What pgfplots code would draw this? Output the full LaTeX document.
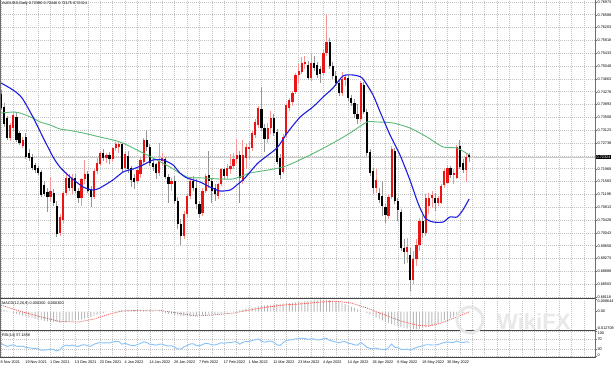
\documentclass[border=0pt]{standalone}
\usepackage{fontspec}
\setmainfont{Liberation Sans}
\usepackage{pgfplots}
\usepackage{pgfplotstable}
\pgfplotsset{compat=1.18}

\definecolor{bullc}{RGB}{235,20,20}
\definecolor{bullw}{RGB}{245,150,150}
\definecolor{bearc}{RGB}{0,0,0}
\definecolor{bearw}{RGB}{150,150,150}
\definecolor{maBlue}{RGB}{30,30,225}
\definecolor{maGreen}{RGB}{90,185,120}
\definecolor{gridc}{RGB}{195,195,195}
\definecolor{framec}{RGB}{110,110,110}
\definecolor{sepc}{RGB}{70,70,70}
\definecolor{rsic}{RGB}{135,195,250}
\definecolor{sigc}{RGB}{240,90,90}
\definecolor{histc}{RGB}{185,185,185}
\definecolor{bidc}{RGB}{200,200,200}

\newcommand{\tf}{\fontsize{3.8}{4.2}\selectfont}

% bearish candles: index, open, high, low, close
\pgfplotstableread{
i O H L C
0 0.7420 0.7433 0.7372 0.7380
1 0.7382 0.7394 0.7322 0.7330
2 0.7349 0.7355 0.7283 0.7290
5 0.7352 0.7367 0.7277 0.7283
6 0.7304 0.7310 0.7268 0.7274
8 0.7292 0.7304 0.7226 0.7232
9 0.7244 0.7255 0.7220 0.7229
10 0.7232 0.7240 0.7193 0.7199
11 0.7208 0.7214 0.7184 0.7193
12 0.7199 0.7205 0.7178 0.7184
13 0.7187 0.7193 0.7112 0.7118
14 0.7148 0.7160 0.7115 0.7121
15 0.7127 0.7139 0.7067 0.7112
17 0.7125 0.7135 0.7085 0.7094
18 0.7085 0.7100 0.6993 0.7000
22 0.7170 0.7180 0.7130 0.7140
24 0.7168 0.7180 0.7125 0.7130
25 0.7130 0.7140 0.7093 0.7110
28 0.7180 0.7190 0.7125 0.7130
29 0.7135 0.7145 0.7083 0.7112
33 0.7245 0.7255 0.7220 0.7228
35 0.7238 0.7248 0.7210 0.7225
39 0.7270 0.7275 0.7188 0.7195
41 0.7235 0.7250 0.7185 0.7195
42 0.7198 0.7205 0.7142 0.7163
43 0.7170 0.7180 0.7135 0.7158
47 0.7283 0.7314 0.7250 0.7262
48 0.7262 0.7270 0.7205 0.7215
49 0.7215 0.7230 0.7190 0.7203
50 0.7210 0.7215 0.7165 0.7183
53 0.7225 0.7232 0.7165 0.7172
54 0.7172 0.7180 0.7093 0.7150
56 0.7160 0.7175 0.7090 0.7100
57 0.7100 0.7112 0.7015 0.7030
58 0.7030 0.7045 0.6967 0.6995
62 0.7160 0.7175 0.7130 0.7140
63 0.7140 0.7165 0.7075 0.7090
64 0.7090 0.7100 0.7050 0.7060
67 0.7178 0.7250 0.7140 0.7160
68 0.7160 0.7170 0.7094 0.7130
69 0.7140 0.7150 0.7100 0.7120
72 0.7195 0.7200 0.7165 0.7175
77 0.7238 0.7250 0.7094 0.7170
84 0.7375 0.7442 0.7310 0.7320
85 0.7320 0.7330 0.7248 0.7285
88 0.7350 0.7360 0.7295 0.7305
89 0.7307 0.7315 0.7210 0.7217
90 0.7229 0.7240 0.7165 0.7178
99 0.7508 0.7520 0.7462 0.7469
101 0.7515 0.7535 0.7490 0.7500
102 0.7508 0.7518 0.7470 0.7478
103 0.7495 0.7505 0.7455 0.7482
106 0.7577 0.7590 0.7495 0.7505
107 0.7505 0.7518 0.7465 0.7475
108 0.7475 0.7490 0.7445 0.7455
109 0.7455 0.7462 0.7415 0.7425
112 0.7470 0.7478 0.7400 0.7410
113 0.7410 0.7418 0.7385 0.7395
114 0.7395 0.7405 0.7350 0.7360
115 0.7362 0.7390 0.7330 0.7345
117 0.7448 0.7458 0.7360 0.7368
118 0.7368 0.7375 0.7235 0.7245
119 0.7247 0.7255 0.7175 0.7184
120 0.7190 0.7200 0.7120 0.7140
122 0.7124 0.7140 0.7095 0.7103
123 0.7115 0.7160 0.7055 0.7085
124 0.7082 0.7090 0.7034 0.7058
127 0.7250 0.7258 0.7090 0.7100
128 0.7100 0.7110 0.7040 0.7073
129 0.7067 0.7075 0.6950 0.6960
130 0.6960 0.6985 0.6910 0.6948
132 0.6938 0.6960 0.6829 0.6862
136 0.7040 0.7055 0.6990 0.7005
140 0.7108 0.7125 0.7070 0.7095
145 0.7199 0.7205 0.7170 0.7178
148 0.7265 0.7283 0.7195 0.7203
149 0.7214 0.7225 0.7185 0.7193
151 0.7238 0.7245 0.7218 0.7232
}\bear

% bullish candles
\pgfplotstableread{
i O H L C
3 0.7290 0.7335 0.7280 0.7328
4 0.7318 0.7368 0.7310 0.7358
7 0.7265 0.7292 0.7259 0.7283
16 0.7112 0.7172 0.7100 0.7130
19 0.7004 0.7060 0.6995 0.7052
20 0.7043 0.7130 0.7035 0.7124
21 0.7124 0.7187 0.7115 0.7170
23 0.7140 0.7180 0.7120 0.7168
26 0.7110 0.7170 0.7085 0.7165
27 0.7165 0.7222 0.7150 0.7180
30 0.7112 0.7195 0.7105 0.7190
31 0.7190 0.7230 0.7180 0.7215
32 0.7212 0.7250 0.7205 0.7245
34 0.7228 0.7245 0.7215 0.7238
36 0.7225 0.7262 0.7218 0.7258
37 0.7258 0.7278 0.7250 0.7270
38 0.7262 0.7277 0.7245 0.7272
40 0.7200 0.7247 0.7195 0.7240
44 0.7160 0.7198 0.7150 0.7193
45 0.7180 0.7228 0.7170 0.7223
46 0.7217 0.7290 0.7210 0.7283
51 0.7185 0.7274 0.7175 0.7220
52 0.7220 0.7245 0.7205 0.7230
55 0.7150 0.7170 0.7130 0.7160
59 0.6995 0.7070 0.6985 0.7062
60 0.7062 0.7120 0.7050 0.7115
61 0.7115 0.7170 0.7105 0.7160
65 0.7065 0.7140 0.7055 0.7130
66 0.7130 0.7180 0.7125 0.7175
70 0.7115 0.7155 0.7105 0.7150
71 0.7150 0.7200 0.7145 0.7195
73 0.7175 0.7210 0.7165 0.7200
74 0.7195 0.7240 0.7180 0.7205
75 0.7205 0.7245 0.7195 0.7225
76 0.7225 0.7285 0.7210 0.7238
78 0.7160 0.7283 0.7150 0.7238
79 0.7230 0.7270 0.7195 0.7262
80 0.7255 0.7280 0.7225 0.7262
81 0.7259 0.7310 0.7250 0.7304
82 0.7298 0.7345 0.7290 0.7337
83 0.7328 0.7385 0.7320 0.7379
86 0.7285 0.7335 0.7275 0.7318
87 0.7318 0.7370 0.7300 0.7350
91 0.7187 0.7300 0.7180 0.7292
92 0.7298 0.7395 0.7290 0.7388
93 0.7379 0.7410 0.7370 0.7403
94 0.7397 0.7430 0.7385 0.7424
95 0.7427 0.7485 0.7420 0.7478
96 0.7478 0.7510 0.7455 0.7490
97 0.7487 0.7532 0.7480 0.7514
98 0.7510 0.7535 0.7495 0.7518
100 0.7470 0.7540 0.7460 0.7515
104 0.7485 0.7555 0.7478 0.7545
105 0.7545 0.7661 0.7535 0.7577
110 0.7425 0.7488 0.7415 0.7465
111 0.7462 0.7480 0.7445 0.7472
116 0.7345 0.7460 0.7338 0.7455
121 0.7140 0.7195 0.7125 0.7162
125 0.7055 0.7120 0.7045 0.7112
126 0.7112 0.7266 0.7105 0.7255
131 0.6948 0.6990 0.6914 0.6962
133 0.6862 0.6950 0.6850 0.6925
134 0.6925 0.6985 0.6905 0.6968
135 0.6968 0.7048 0.6950 0.7040
137 0.7005 0.7120 0.6995 0.7110
138 0.7085 0.7125 0.7060 0.7110
139 0.7110 0.7130 0.7080 0.7118
141 0.7095 0.7115 0.7085 0.7108
142 0.7095 0.7150 0.7090 0.7145
143 0.7148 0.7195 0.7140 0.7190
144 0.7155 0.7205 0.7150 0.7199
146 0.7178 0.7195 0.7150 0.7185
147 0.7170 0.7268 0.7165 0.7262
150 0.7193 0.7240 0.7157 0.7232
}\bull

\pgfplotstableread{
i m
0 0.0018
1 0.0011
2 0.0004
3 -0.0003
4 -0.0009
5 -0.0015
6 -0.0022
7 -0.0028
8 -0.0034
9 -0.0040
10 -0.0046
11 -0.0051
12 -0.0056
13 -0.0061
14 -0.0066
15 -0.0070
16 -0.0073
17 -0.0075
18 -0.0077
19 -0.0078
20 -0.0076
21 -0.0073
22 -0.0070
23 -0.0066
24 -0.0063
25 -0.0060
26 -0.0055
27 -0.0049
28 -0.0043
29 -0.0037
30 -0.0030
31 -0.0022
32 -0.0015
33 -0.0009
34 -0.0004
35 0.0001
36 0.0004
37 0.0007
38 0.0009
39 0.0010
40 0.0011
41 0.0012
42 0.0012
43 0.0012
44 0.0011
45 0.0011
46 0.0010
47 0.0010
48 0.0009
49 0.0005
50 0.0001
51 -0.0003
52 -0.0007
53 -0.0011
54 -0.0015
55 -0.0019
56 -0.0023
57 -0.0027
58 -0.0030
59 -0.0032
60 -0.0033
61 -0.0034
62 -0.0032
63 -0.0031
64 -0.0029
65 -0.0027
66 -0.0025
67 -0.0022
68 -0.0020
69 -0.0018
70 -0.0015
71 -0.0013
72 -0.0009
73 -0.0005
74 -0.0001
75 0.0003
76 0.0008
77 0.0012
78 0.0016
79 0.0021
80 0.0025
81 0.0029
82 0.0033
83 0.0037
84 0.0041
85 0.0044
86 0.0047
87 0.0050
88 0.0052
89 0.0053
90 0.0055
91 0.0057
92 0.0059
93 0.0061
94 0.0063
95 0.0066
96 0.0069
97 0.0072
98 0.0075
99 0.0078
100 0.0081
101 0.0083
102 0.0085
103 0.008644
104 0.0085
105 0.0084
106 0.0082
107 0.0078
108 0.0074
109 0.0069
110 0.0062
111 0.0054
112 0.0045
113 0.0036
114 0.0027
115 0.0017
116 0.0008
117 -0.0001
118 -0.0010
119 -0.0020
120 -0.0030
121 -0.0041
122 -0.0052
123 -0.0062
124 -0.0071
125 -0.0080
126 -0.0089
127 -0.0097
128 -0.0105
129 -0.0111
130 -0.0116
131 -0.0121
132 -0.0125
133 -0.012708
134 -0.0126
135 -0.0123
136 -0.0118
137 -0.0112
138 -0.0106
139 -0.0098
140 -0.0090
141 -0.0081
142 -0.0072
143 -0.0063
144 -0.0054
145 -0.0045
146 -0.0036
147 -0.0026
148 -0.0016
149 -0.0008
150 -0.0002
151 0.0003
}\macdtab

\pgfplotstableread{
i s
0 0.0047
6 0.0004
13 -0.0038
19 -0.0070
25 -0.0074
30 -0.0053
35 -0.0017
39 0.0004
45 0.0010
51 0.0010
57 -0.0010
63 -0.0031
68 -0.0024
75 -0.0010
80 0.0011
86 0.0033
91 0.0047
96 0.0054
103 0.0068
108 0.0075
113 0.0061
118 0.0026
123 -0.0017
129 -0.0067
134 -0.0095
138 -0.0103
142 -0.0081
147 -0.0038
151 -0.0003
}\sigtab

\pgfplotstableread{
i r
0 52
1 46
2 40
3 44
4 47
5 41
6 40
7 42
8 36
9 35
10 33
11 32
12 31
13 25
14 26
15 27
16 30
17 28
18 22
19 27
20 40
21 46
22 43
23 46
24 42
25 40
26 46
27 47
28 42
29 41
30 49
31 53
32 56
33 54
34 55
35 54
36 58
37 60
38 60
39 49
40 53
41 48
42 44
43 43
44 48
45 52
46 59
47 56
48 49
49 48
50 45
51 49
52 50
53 44
54 42
55 43
56 37
57 31
58 29
59 38
60 44
61 50
62 51
63 44
64 42
65 48
66 53
67 51
68 47
69 46
70 50
71 55
72 53
73 55
74 56
75 58
76 59
77 49
78 57
79 60
80 60
81 64
82 67
83 70
84 62
85 57
86 60
87 62
88 57
89 47
90 44
91 55
92 64
93 66
94 67
95 71
96 71
97 73
98 72
99 68
100 71
101 70
102 66
103 67
104 72
105 73
106 64
107 61
108 58
109 55
110 59
111 60
112 53
113 51
114 47
115 45
116 56
117 48
118 37
119 32
120 31
121 34
122 30
123 29
124 27
125 35
126 50
127 37
128 35
129 29
130 28
131 30
132 25
133 31
134 36
135 40
136 42
137 47
138 47
139 46
140 46
141 48
142 52
143 56
144 58
145 56
146 56
147 62
148 57
149 55
150 59
151 57.19
}\rsitab

\pgfplotsset{
  chartbase/.style={
    scale only axis, width=595pt, xmin=-0.32, xmax=191.6,
    axis line style={draw=none},
    tick label style={font=\tf},
    scaled y ticks=false, scaled x ticks=false,
    grid style={gridc, dash pattern=on 0.7pt off 1.3pt, line width=0.5pt},
    /pgf/number format/assume math mode=true,
  },
  candle/.style n args={2}{draw=none, mark=none, forget plot,
    error bars/.cd, y dir=plus, y explicit, error mark=none,
    error bar style={draw=#1, line width=#2}},
}

\begin{document}
\begin{tikzpicture}[x=1pt,y=1pt]
\useasboundingbox (0pt,0pt) rectangle (614pt,-366pt);
\fill[white] (0pt,0pt) rectangle (614pt,-366pt);

% ---------------- main price panel ----------------
\begin{axis}[chartbase, at={(0pt,0pt)}, anchor=north west, height=298pt,
  ymin=0.6809, ymax=0.7703,
  xtick={0,4,...,188}, xticklabels={}, xmajorgrids=true, x tick style={draw=none},
  ytick={0.68118,0.68503,0.68888,0.69273,0.69658,0.70043,0.70428,0.70813,0.71198,0.71583,0.71968,0.72353,0.72738,0.73123,0.73508,0.73893,0.74278,0.74663,0.75048,0.75433,0.75818,0.76203,0.76588,0.76973},
  yticklabels={0.68118,0.68503,0.68888,0.69273,0.69658,0.70043,0.70428,0.70813,0.71198,0.71583,0.71968,,0.72738,0.73123,0.73508,0.73893,0.74278,0.74663,0.75048,0.75433,0.75818,0.76203,0.76588,0.76973},
  ymajorgrids=true, ytick pos=right, yticklabel pos=right,
  tick align=outside, major tick length=2pt,
  y tick style={draw=framec, line width=0.4pt},
  yticklabel style={anchor=west, inner sep=0.4pt},
]
\addplot[bidc, line width=0.8pt, forget plot] coordinates {(-0.32,0.7232) (191.6,0.7232)};
\addplot[candle={bearw}{0.7pt}] table[x=i, y=L, y error expr=\thisrow{H}-\thisrow{L}] {\bear};
\addplot[candle={bullw}{0.7pt}] table[x=i, y=L, y error expr=\thisrow{H}-\thisrow{L}] {\bull};
\addplot[candle={bearc}{2.2pt}] table[x=i, y=C, y error expr=\thisrow{O}-\thisrow{C}] {\bear};
\addplot[candle={bullc}{2.2pt}] table[x=i, y=O, y error expr=\thisrow{C}-\thisrow{O}] {\bull};
% green moving average
\addplot[maGreen, line width=0.9pt, smooth, tension=0.4] coordinates {
(0,0.7364) (3.9,0.7367) (6.1,0.7364) (10.3,0.7349) (12.6,0.7337) (15.8,0.7328) (19,0.7316) (21.3,0.7313) (26.5,0.7304) (31.9,0.7292) (37.4,0.7280) (40,0.7271) (43.9,0.7253) (49,0.7229) (54.5,0.7202) (60,0.7172) (65.2,0.7169) (70.6,0.7166) (74.8,0.7166) (78.7,0.7178) (80.3,0.7184) (91,0.7202) (99.7,0.7238) (107.1,0.7274) (112.6,0.7304) (118.1,0.7337) (121.3,0.7337) (126.5,0.7334) (131.9,0.7319) (137.4,0.7292) (142.6,0.7262) (147.1,0.7259) (151,0.7238)};
% blue moving average
\addplot[maBlue, line width=1.1pt, smooth, tension=0.4] coordinates {
(0,0.7454) (3.9,0.7433) (6.8,0.7409) (10.3,0.7352) (13.5,0.7292) (16.8,0.7232) (19,0.7202) (22.3,0.7172) (26.5,0.7142) (29.7,0.7133) (31.9,0.7139) (36.1,0.7163) (39.4,0.7187) (42.6,0.7196) (45.8,0.7208) (49,0.7223) (52.3,0.7223) (55.5,0.7208) (57.7,0.7184) (60,0.7169) (64.2,0.7157) (67.4,0.7142) (70.6,0.7130) (73.9,0.7133) (76.1,0.7148) (78.7,0.7169) (82.9,0.7214) (89,0.7259) (92.3,0.7304) (96.5,0.7352) (100.6,0.7382) (103.9,0.7412) (107.1,0.7439) (110.3,0.7475) (113.5,0.7478) (116.5,0.7469) (120,0.7418) (122.3,0.7367) (125.5,0.7298) (128.7,0.7238) (131.9,0.7163) (134.5,0.7094) (136.8,0.7049) (139.4,0.7037) (142.6,0.7037) (144.8,0.7052) (147.1,0.7052) (149,0.7073) (151,0.7106)};
\end{axis}

% ---------------- MACD panel ----------------
\begin{axis}[chartbase, at={(0pt,-299.5pt)}, anchor=north west, height=30pt,
  ymin=-0.012708, ymax=0.008644,
  xtick={0,4,...,188}, xticklabels={}, xmajorgrids=true, x tick style={draw=none},
  ytick={0}, yticklabels={0.00},
  extra y ticks={-0.012708,0.008644}, extra y tick labels={},
  ytick pos=right, yticklabel pos=right,
  tick align=outside, major tick length=2pt,
  y tick style={draw=framec, line width=0.4pt},
  yticklabel style={anchor=west, inner sep=0.4pt},
]
\addplot[ybar, bar width=0.9pt, bar shift=0pt, fill=histc, draw=none] table[x=i, y=m] {\macdtab};
\addplot[sigc, line width=0.8pt, dash pattern=on 1pt off 1pt] table[x=i, y=s] {\sigtab};
\end{axis}

% ---------------- RSI panel ----------------
\begin{axis}[chartbase, at={(0pt,-331.5pt)}, anchor=north west, height=25pt,
  ymin=0, ymax=100,
  xtick={0,8,...,144},
  xticklabels={8 Nov 2021,19 Nov 2021,1 Dec 2021,13 Dec 2021,23 Dec 2021,4 Jan 2022,14 Jan 2022,26 Jan 2022,7 Feb 2022,17 Feb 2022,1 Mar 2022,11 Mar 2022,23 Mar 2022,4 Apr 2022,14 Apr 2022,26 Apr 2022,6 May 2022,18 May 2022,30 May 2022},
  minor xtick={0,4,...,188}, xminorgrids=true, xmajorgrids=false,
  x tick style={draw=none}, minor tick length=0pt,
  xticklabel style={anchor=north west, inner sep=0pt, yshift=-2.2pt, xshift=-0.6pt},
  ytick={30,70}, yticklabels={30,70}, ymajorgrids=true,
  extra y ticks={0,100}, extra y tick labels={},
  ytick pos=right, yticklabel pos=right,
  tick align=outside, major tick length=2pt,
  y tick style={draw=framec, line width=0.4pt},
  yticklabel style={anchor=west, inner sep=0.4pt},
]
\addplot[rsic, line width=0.9pt] table[x=i, y=r] {\rsitab};
\end{axis}

% frames and separators
\draw[framec, line width=0.7pt] (0.35pt,0pt) -- (0.35pt,-358pt);
\draw[framec, line width=0.7pt] (595pt,0pt) -- (595pt,-358.5pt);
\draw[sepc, line width=1.6pt] (0pt,-298.6pt) -- (595pt,-298.6pt);
\draw[sepc, line width=1.6pt] (0pt,-330.6pt) -- (595pt,-330.6pt);
\draw[sepc, line width=1.2pt] (0pt,-357.6pt) -- (595pt,-357.6pt);

% watermark
\node[text=black!9, font=\fontsize{22}{22}\selectfont\bfseries, anchor=west, inner sep=0pt] at (497pt,-322pt) {WikiFX};
\draw[black!9, line width=3pt] (470pt,-320pt) circle (13pt);

% texts
\node[anchor=north west, inner sep=0pt, font=\tf] at (2pt,-1.2pt) {AUDUSD,Daily 0.72380 0.72446 0.72175 0.72324};
\node[anchor=north west, inner sep=0pt, font=\tf] at (2pt,-301.6pt) {MACD(12,26,9) 0.000300 -0.000300};
\node[anchor=north west, inner sep=0pt, font=\tf] at (2pt,-333.2pt) {RSI(14) 57.1858};
\node[anchor=west, fill=black, text=white, inner sep=0.5pt, font=\tf] at (596pt,-157pt) {0.72324};
\node[anchor=north west, inner sep=0pt, font=\tf] at (597.5pt,-299.6pt) {0.008644};
\node[anchor=south west, inner sep=0pt, font=\tf] at (596.5pt,-329.3pt) {-0.012708};
\node[anchor=north west, inner sep=0pt, font=\tf] at (597.5pt,-331.9pt) {100};
\node[anchor=south west, inner sep=0pt, font=\tf] at (597.5pt,-356.6pt) {0};
\end{tikzpicture}
\end{document}
